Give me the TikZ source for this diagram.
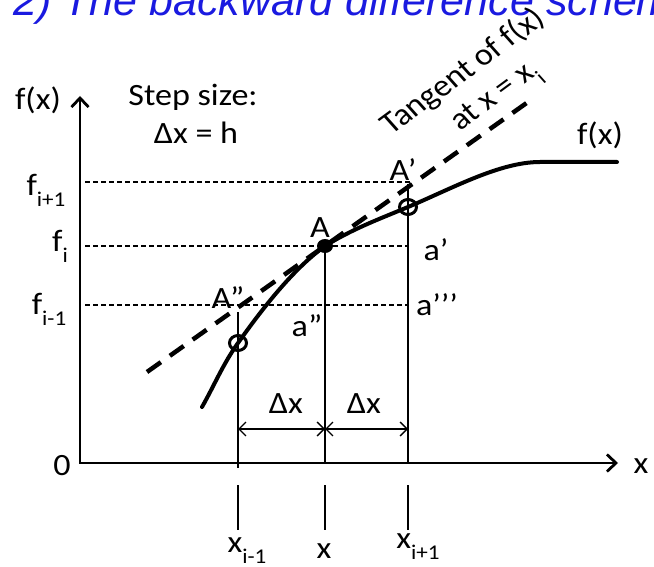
\documentclass[tikz,border=0pt]{standalone}
\usepackage{fontspec}
\setmainfont{Carlito}
\newfontfamily\titlefont{Liberation Sans}
\usetikzlibrary{arrows.meta,positioning,calc}
\definecolor{titleblue}{HTML}{1A1AE0}
\newcommand{\lowidx}[1]{\raisebox{-0.36em}{\fontsize{21}{23}\selectfont #1}}

\begin{document}
\begin{tikzpicture}[x=1pt,y=-1pt,>={Straight Barb[length=9pt,width=17pt]},
 lbl/.style={inner sep=0pt,font=\fontsize{31}{33}\selectfont,xscale=1.1},
 axis/.style={<->,line width=2.8pt},
 guide/.style={line width=1.4pt,dash pattern=on 5pt off 3pt},
 vline/.style={line width=1.6pt},
 tang/.style={line width=4.5pt,dash pattern=on 17pt off 11pt},
 dim/.style={<->,line width=1.4pt,>={Straight Barb[length=7pt,width=14pt]}},
 hollow/.style={line width=3pt}]
 \useasboundingbox (0,0) rectangle (654,567);
 % title, cut off at the top
 \node[anchor=base west,inner sep=0pt,text=titleblue,font=\titlefont\itshape\fontsize{43}{45}\selectfont] (title) at (13,16) {2) The backward difference scheme};
 % axes
 \coordinate (O) at (80,463);
 \coordinate (ytip) at (80,96);
 \coordinate (xtip) at (618,463);
 \draw[axis] (ytip) |- (xtip);
 \node[lbl] (zero) at (62,466) {0};
 \node[lbl] (xlab) at (641,466) {x};
 \node[lbl] (ylab) at (38,100) {f(x)};
 \node[lbl] (step) at (193,97) {Step size:};
 \node[lbl] (hval) at (196,133) {Δx = h};
 % points on the curve
 \coordinate (A) at (325,246);
 \coordinate (Ap) at (408,207);
 \coordinate (Ab) at (238,343);
 \coordinate (Tp) at (408,184);
 \coordinate (Tb) at (238,312);
 % levels
 \node[lbl] (fip1) at (46,190) {f\lowidx{i+1}};
 \node[lbl] (fi) at (60,246) {f\lowidx{i}};
 \node[lbl] (fim1) at (49,309) {f\lowidx{i-1}};
 \draw[guide] (85,182) -- (410,182);
 \draw[guide] (85,246) -- (408,246);
 \draw[guide] (85,305) -- (408,305);
 % verticals
 \draw[vline] (Tb) -- (238,468);
 \draw[vline] (A) -- (325,463);
 \draw[vline] (Tp) -- (408,463);
 % tangent
 \coordinate (t1) at (147,372);
 \coordinate (t2) at (528,102);
 \draw[tang] (t1) -- (t2);
 \node[lbl,rotate=39] (tanlab) at (463,72) {Tangent of f(x)};
 \node[lbl,rotate=39] (atlab) at (497,99) {at x = x\lowidx{i}};
 % the function
 \draw[line width=4pt,line cap=round] (202,407) .. controls (214,386) and (223,364) .. (Ab)
   .. controls (267,302) and (296,267) .. (A)
   .. controls (353,228.6) and (380,218.8) .. (Ap)
   .. controls (453,188) and (500,162) .. (540,162) -- (617,162);
 \node[lbl] (fxr) at (600,135) {f(x)};
 % marked points
 \fill (A) ellipse[x radius=8,y radius=7];
 \draw[hollow] (Ap) ellipse[x radius=8.5,y radius=7.5];
 \draw[hollow] (Ab) ellipse[x radius=8.5,y radius=7.5];
 \node[lbl] (Alab) at (320,228) {A};
 \node[lbl] (Aplab) at (403,170) {A’};
 \node[lbl] (Ablab) at (228,298) {A”};
 \node[lbl] (aplab) at (436,250) {a’};
 \node[lbl] (aplab3) at (437,305) {a’’’};
 \node[lbl] (ablab) at (307,326) {a”};
 % step widths
 \draw[dim] (238,429) -- (325,429);
 \draw[dim] (325,429) -- (408,429);
 \node[lbl] (dx1) at (286,404) {Δx};
 \node[lbl] (dx2) at (364,404) {Δx};
 % grid points
 \draw[vline] (238,485) -- (238,530);
 \draw[vline] (325,485) -- (325,530);
 \draw[vline] (408,485) -- (408,530);
 \node[lbl] (xim1) at (247,551) {x\lowidx{i-1}};
 \node[lbl] (xi) at (324,551) {x};
 \node[lbl] (xip1) at (418,547) {x\lowidx{i+1}};
\end{tikzpicture}
\end{document}
